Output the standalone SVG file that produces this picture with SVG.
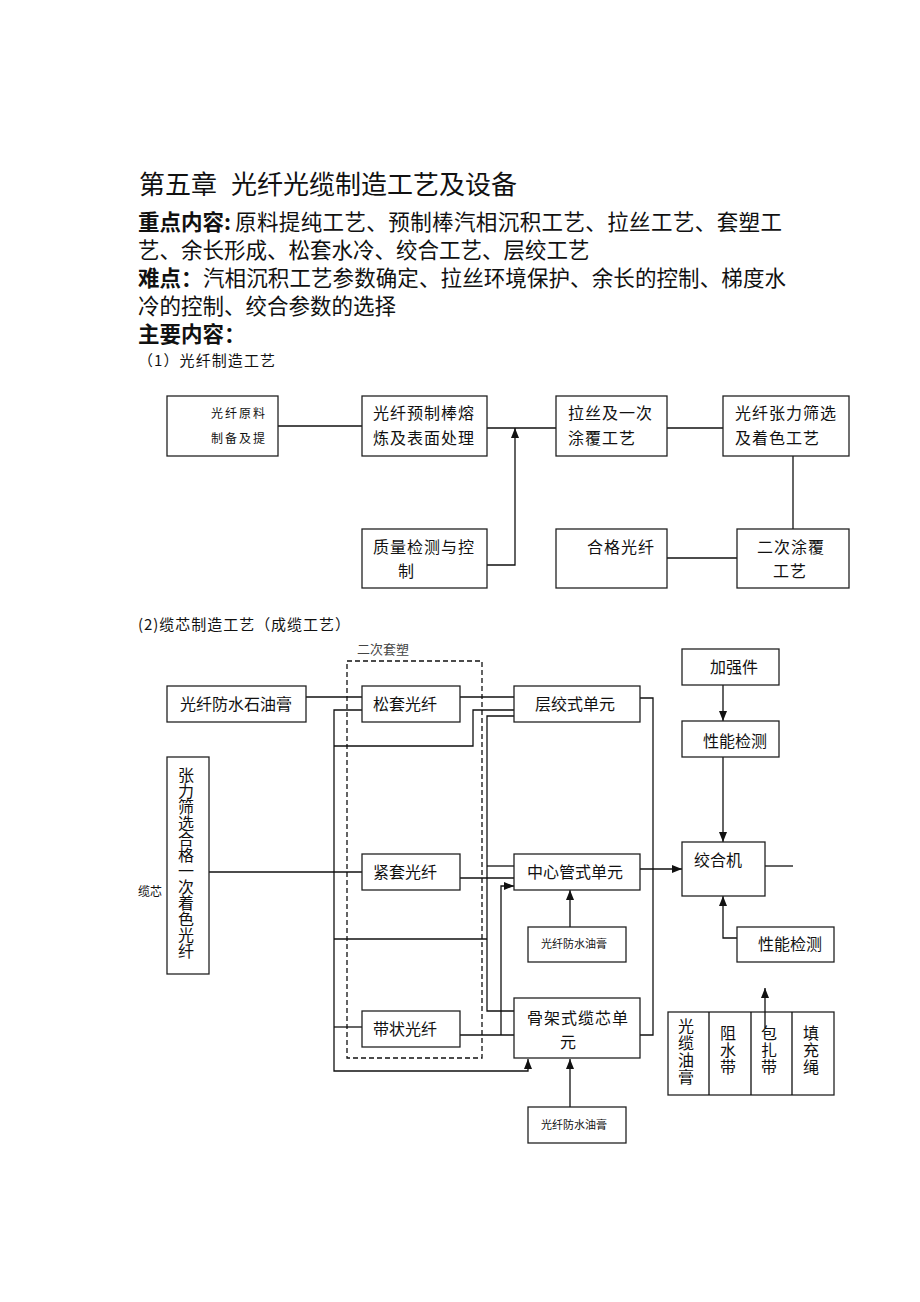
<svg xmlns="http://www.w3.org/2000/svg" width="920" height="1302" viewBox="0 0 920 1302">
<style>
text{font-family:"Noto Sans CJK SC","Noto Sans",sans-serif;fill:#111}
.h1{font-size:26px}
.p{font-size:21.5px}
.b{font-weight:bold}
.s15{font-size:15px}
.t16{font-size:16px}
.t16s{font-size:16px;letter-spacing:1px}
.t12{font-size:12px;letter-spacing:2px}
.t11{font-size:11px}
.t13{font-size:13px;fill:#444}
.v{font-size:16px;writing-mode:tb;glyph-orientation-vertical:0}
.box{fill:#fff;stroke:#222;stroke-width:1.3}
.ln{fill:none;stroke:#111;stroke-width:1.3}
.dash{fill:none;stroke:#111;stroke-width:1.3;stroke-dasharray:5,3}
</style>
<defs>
<marker id="arr" viewBox="0 0 10 8" refX="10" refY="4" markerWidth="10" markerHeight="8" markerUnits="userSpaceOnUse" orient="auto">
<path d="M0,0 L10,4 L0,8 z" fill="#111"/>
</marker>
</defs>
<rect width="920" height="1302" fill="#fff"/>

<g id="heading">
<text class="h1" x="139" y="194">第五章</text>
<text class="h1" x="231" y="194">光纤光缆制造工艺及设备</text>
<text class="p b" x="138" y="230">重点内容:</text>
<text class="p" x="235" y="230" textLength="547" lengthAdjust="spacing">原料提纯工艺、预制棒汽相沉积工艺、拉丝工艺、套塑工</text>
<text class="p" x="138" y="258">艺、余长形成、松套水冷、绞合工艺、层绞工艺</text>
<text class="p b" x="138" y="286">难点：</text>
<text class="p" x="203" y="286" textLength="583" lengthAdjust="spacing">汽相沉积工艺参数确定、拉丝环境保护、余长的控制、梯度水</text>
<text class="p" x="138" y="314">冷的控制、绞合参数的选择</text>
<text class="p b" x="138" y="342">主要内容：</text>
<text class="s15" x="138" y="366" textLength="137" lengthAdjust="spacing">（1）光纤制造工艺</text>
</g>

<g id="connectors-top">
<path class="ln" d="M278,426 H362"/>
<path class="ln" d="M487,428 H556"/>
<path class="ln" d="M487,565 H515 V428" marker-end="url(#arr)"/>
<path class="ln" d="M667,428 H723"/>
<path class="ln" d="M793,456 V529"/>
<path class="ln" d="M667,558 H737"/>
</g>

<g id="nA"><rect class="box" x="167" y="396" width="111" height="60"/>
<text class="t12" x="211" y="418">光纤原料</text><text class="t12" x="211" y="443">制备及提</text></g>
<g id="nB"><rect class="box" x="362" y="396" width="125" height="60"/>
<text class="t16s" x="373" y="419">光纤预制棒熔</text><text class="t16s" x="373" y="444">炼及表面处理</text></g>
<g id="nC"><rect class="box" x="556" y="396" width="111" height="60"/>
<text class="t16s" x="568" y="419">拉丝及一次</text><text class="t16s" x="568" y="444">涂覆工艺</text></g>
<g id="nD"><rect class="box" x="723" y="396" width="126" height="60"/>
<text class="t16s" x="735" y="419">光纤张力筛选</text><text class="t16s" x="735" y="444">及着色工艺</text></g>
<g id="nE"><rect class="box" x="362" y="529" width="125" height="59"/>
<text class="t16s" x="373" y="553">质量检测与控</text><text class="t16s" x="398" y="577">制</text></g>
<g id="nF"><rect class="box" x="556" y="529" width="111" height="59"/>
<text class="t16s" x="587" y="553">合格光纤</text></g>
<g id="nG"><rect class="box" x="737" y="529" width="112" height="59"/>
<text class="t16s" x="757" y="553">二次涂覆</text><text class="t16s" x="773" y="577">工艺</text></g>

<text class="s15" x="138" y="630" textLength="212" lengthAdjust="spacing">(2)缆芯制造工艺（成缆工艺）</text>
<g id="group-secondary">
<text class="t13" x="357" y="654">二次套塑</text>
<rect class="dash" x="347" y="661" width="135" height="397"/>
</g>

<g id="connectors-bottom">
<path class="ln" d="M306,697 H362"/>
<path class="ln" d="M460,697 H514"/>
<path class="ln" d="M362,710 H334 V1071 H528 V1059" marker-end="url(#arr)"/>
<path class="ln" d="M334,746 H473 V710 H514"/>
<path class="ln" d="M514,716 H487 V1011 H514"/>
<path class="ln" d="M487,866 H514"/>
<path class="ln" d="M209,872 H362"/>
<path class="ln" d="M460,878 H514"/>
<path class="ln" d="M334,939 H487"/>
<path class="ln" d="M362,1027 H334"/>
<path class="ln" d="M460,1035 H514"/>
<path class="ln" d="M501,1035 V886 H514" marker-end="url(#arr)"/>
<path class="ln" d="M640,869 H682" marker-end="url(#arr)"/>
<path class="ln" d="M640,698 H653 V1035 H640"/>
<path class="ln" d="M723,685 V721" marker-end="url(#arr)"/>
<path class="ln" d="M723,757 V842" marker-end="url(#arr)"/>
<path class="ln" d="M765,866 H793"/>
<path class="ln" d="M570,927 V890" marker-end="url(#arr)"/>
<path class="ln" d="M570,1107 V1059" marker-end="url(#arr)"/>
<path class="ln" d="M737,938 H723 V896" marker-end="url(#arr)"/>
</g>

<g id="n-gel1"><rect class="box" x="167" y="686" width="139" height="36"/>
<text class="t16" x="180" y="710">光纤防水石油膏</text></g>
<g id="n-loose"><rect class="box" x="362" y="686" width="98" height="36"/>
<text class="t16" x="373" y="710">松套光纤</text></g>
<g id="n-strand"><rect class="box" x="514" y="686" width="126" height="36"/>
<text class="t16" x="535" y="710">层绞式单元</text></g>
<g id="n-strength"><rect class="box" x="682" y="649" width="97" height="36"/>
<text class="t16" x="710" y="673">加强件</text></g>
<g id="n-test1"><rect class="box" x="682" y="721" width="97" height="36"/>
<text class="t16" x="703" y="747">性能检测</text></g>
<g id="n-colored"><rect class="box" x="167" y="757" width="42" height="217"/>
<text class="v" x="186" y="767">张力筛选合格一次着色光纤</text></g>
<text class="t12" x="138" y="896" style="letter-spacing:0">缆芯</text>
<g id="n-tight"><rect class="box" x="362" y="854" width="98" height="36"/>
<text class="t16" x="373" y="878">紧套光纤</text></g>
<g id="n-central"><rect class="box" x="514" y="854" width="126" height="36"/>
<text class="t16" x="527" y="878">中心管式单元</text></g>
<g id="n-strander"><rect class="box" x="682" y="842" width="83" height="54"/>
<text class="t16" x="694" y="866">绞合机</text></g>
<g id="n-gel2"><rect class="box" x="528" y="927" width="98" height="35"/>
<text class="t11" x="541" y="948">光纤防水油膏</text></g>
<g id="n-test2"><rect class="box" x="737" y="927" width="97" height="35"/>
<text class="t16" x="758" y="950">性能检测</text></g>
<g id="n-ribbon"><rect class="box" x="362" y="1011" width="98" height="36"/>
<text class="t16" x="373" y="1035">带状光纤</text></g>
<g id="n-slotted"><rect class="box" x="514" y="998" width="126" height="60"/>
<text class="t16s" x="527" y="1024">骨架式缆芯单</text><text class="t16" x="560" y="1048">元</text></g>
<g id="n-gel3"><rect class="box" x="528" y="1107" width="98" height="36"/>
<text class="t11" x="541" y="1129">光纤防水油膏</text></g>
<g id="n-materials">
<rect class="box" x="668" y="1012" width="166" height="83"/>
<path class="ln" d="M709,1012 V1095 M751,1012 V1095 M792,1012 V1095"/>
<text class="v" x="686" y="1018" style="letter-spacing:1px">光缆油膏</text>
<text class="v" x="728" y="1025" style="letter-spacing:1px">阻水带</text>
<text class="v" x="769" y="1025" style="letter-spacing:1px">包扎带</text>
<text class="v" x="811" y="1025" style="letter-spacing:1px">填充绳</text>
</g>
<g id="connector-up">
<path class="ln" d="M765,1028 V988" marker-end="url(#arr)"/>
</g>
</svg>
